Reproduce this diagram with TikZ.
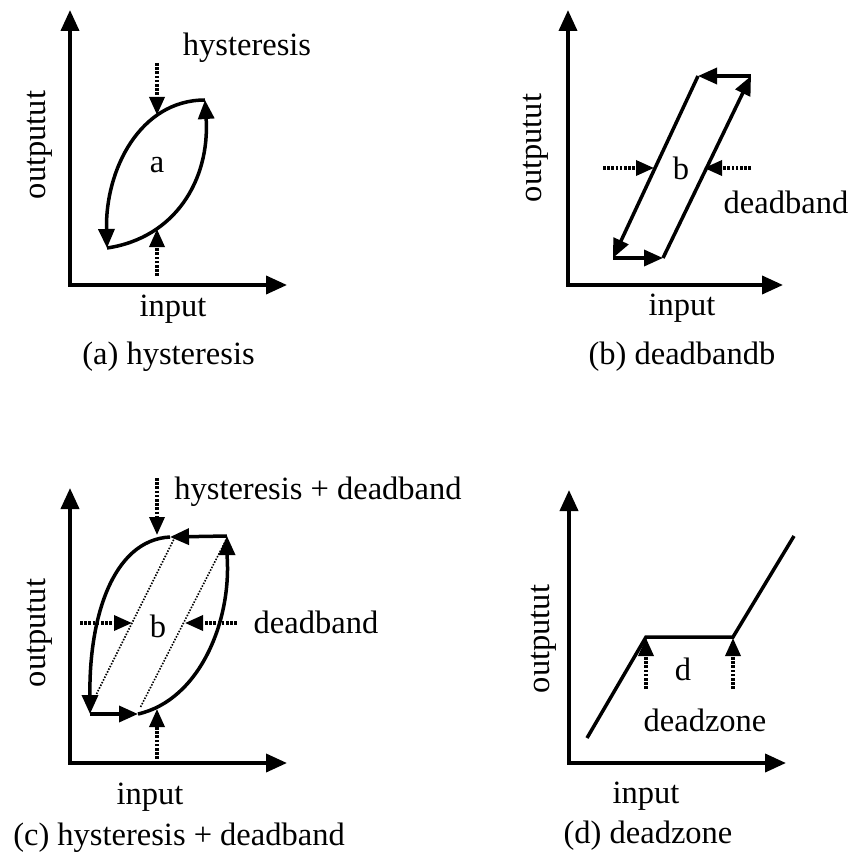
\documentclass[tikz,border=0pt]{standalone}
\usepackage{fontspec}
\setmainfont{Liberation Serif}
\usetikzlibrary{arrows.meta}
\begin{document}
\begin{tikzpicture}[x=1pt,y=-1pt,
  axis/.style={line width=3.8pt,{Triangle[length=21pt,width=18pt]}-{Triangle[length=21pt,width=18pt]}},
  curve/.style={line width=3.5pt,-{Triangle[length=19pt,width=16pt]}},
  plain/.style={line width=3.5pt},
  dotarrow/.style={line width=3.4pt,dash pattern=on 2.6pt off 1.6pt,-{Triangle[length=18pt,width=15pt]}},
  thindot/.style={line width=1.6pt,dash pattern=on 1.5pt off 1.5pt},
  lbl/.style={font=\fontsize{32.5}{39}\selectfont, inner sep=0pt},
]
\useasboundingbox (0,0) rectangle (852,856);

% ---------- (a) hysteresis ----------
\coordinate (aY) at (70,10);
\coordinate (aO) at (70,285);
\coordinate (aX) at (287,285);
\draw[axis] (aY) -- (aO) -- (aX);
\coordinate (aTR) at (205,100);
\coordinate (aBL) at (107,248);
\draw[curve] (aTR) .. controls (140,100) and (105,170) .. (aBL);
\draw[curve] (aBL) .. controls (175,238) and (210,180) .. (aTR);
\coordinate (aD1s) at (157,63);  \coordinate (aD1e) at (157,115);
\coordinate (aD2s) at (157,276); \coordinate (aD2e) at (157,229);
\draw[dotarrow] (aD1s) -- (aD1e);
\draw[dotarrow] (aD2s) -- (aD2e);
\node[lbl] (aLa) at (157,165) {a};
\node[lbl] (aHy) at (247,48) {hysteresis};
\node[lbl,rotate=90] (aOut) at (40,145) {outputut};
\node[lbl] (aIn) at (173,309) {input};
\node[lbl] (aCap) at (168.5,357) {(a) hysteresis};

% ---------- (b) deadband ----------
\coordinate (bY) at (568,10);
\coordinate (bO) at (568,285);
\coordinate (bX) at (783,285);
\draw[axis] (bY) -- (bO) -- (bX);
\coordinate (bBL) at (613,258);
\coordinate (bBR) at (663,258);
\coordinate (bTR) at (751,76);
\coordinate (bTL) at (698,76);
\draw[curve] (bTR) -- (bTL);
\draw[curve] (bTL) -- (bBL);
\draw[curve] (bBL) -- (bBR);
\draw[curve] (bBR) -- (bTR);
\coordinate (bD1s) at (603,168); \coordinate (bD1e) at (654,168);
\coordinate (bD2s) at (751,168); \coordinate (bD2e) at (704,168);
\draw[dotarrow] (bD1s) -- (bD1e);
\draw[dotarrow] (bD2s) -- (bD2e);
\node[lbl] (bLb) at (681,168) {b};
\node[lbl] (bDb) at (786,202) {deadband};
\node[lbl,rotate=90] (bOut) at (536,148) {outputut};
\node[lbl] (bIn) at (682,308) {input};
\node[lbl] (bCap) at (682,357) {(b) deadbandb};

% ---------- (c) hysteresis + deadband ----------
\coordinate (cY) at (70,488);
\coordinate (cO) at (70,763);
\coordinate (cX) at (287,763);
\draw[axis] (cY) -- (cO) -- (cX);
\coordinate (cTL) at (170,537);
\coordinate (cTR) at (227,536);
\coordinate (cBL) at (90,714);
\coordinate (cBR) at (138,714);
\draw[plain] (cTL) .. controls (112,540) and (88,620) .. (90,700);
\draw[curve] (90,698) -- (cBL);
\draw[curve] (cBL) -- (cBR);
\draw[plain] (cBR) .. controls (200,700) and (232,620) .. (227,555);
\draw[curve] (227,552) -- (cTR);
\draw[curve] (cTR) -- (cTL);
\coordinate (cL1a) at (175,537); \coordinate (cL1b) at (92,703);
\coordinate (cL2a) at (226,540); \coordinate (cL2b) at (140,708);
\draw[thindot] (cL1a) -- (cL1b);
\draw[thindot] (cL2a) -- (cL2b);
\coordinate (cD1s) at (80,623);  \coordinate (cD1e) at (132,623);
\coordinate (cD2s) at (237,623); \coordinate (cD2e) at (185,623);
\draw[dotarrow] (cD1s) -- (cD1e);
\draw[dotarrow] (cD2s) -- (cD2e);
\coordinate (cD3s) at (157,478); \coordinate (cD3e) at (157,535);
\coordinate (cD4s) at (157,759); \coordinate (cD4e) at (157,709);
\draw[dotarrow] (cD3s) -- (cD3e);
\draw[dotarrow] (cD4s) -- (cD4e);
\node[lbl] (cLb) at (158,626) {b};
\node[lbl] (cDb) at (316,622) {deadband};
\node[lbl] (cHD) at (318,492) {hysteresis + deadband};
\node[lbl,rotate=90] (cOut) at (40,633) {outputut};
\node[lbl] (cIn) at (150,797) {input};
\node[lbl] (cCap) at (179,838) {(c) hysteresis + deadband};

% ---------- (d) deadzone ----------
\coordinate (dY) at (569,490);
\coordinate (dO) at (569,763);
\coordinate (dX) at (786,763);
\draw[axis] (dY) -- (dO) -- (dX);
\coordinate (dP1) at (587,738);
\coordinate (dP2) at (646,637);
\coordinate (dP3) at (733,637);
\coordinate (dP4) at (794,536);
\draw[plain] (dP1) -- (dP2) -- (dP3) -- (dP4);
\coordinate (dD1s) at (646,689); \coordinate (dD1e) at (646,638);
\coordinate (dD2s) at (733,689); \coordinate (dD2e) at (733,638);
\draw[dotarrow] (dD1s) -- (dD1e);
\draw[dotarrow] (dD2s) -- (dD2e);
\node[lbl] (dLd) at (683,669) {d};
\node[lbl] (dDz) at (705,720) {deadzone};
\node[lbl,rotate=90] (dOut) at (544,639) {outputut};
\node[lbl] (dIn) at (646,796) {input};
\node[lbl] (dCap) at (648,836) {(d) deadzone};
\end{tikzpicture}
\end{document}
